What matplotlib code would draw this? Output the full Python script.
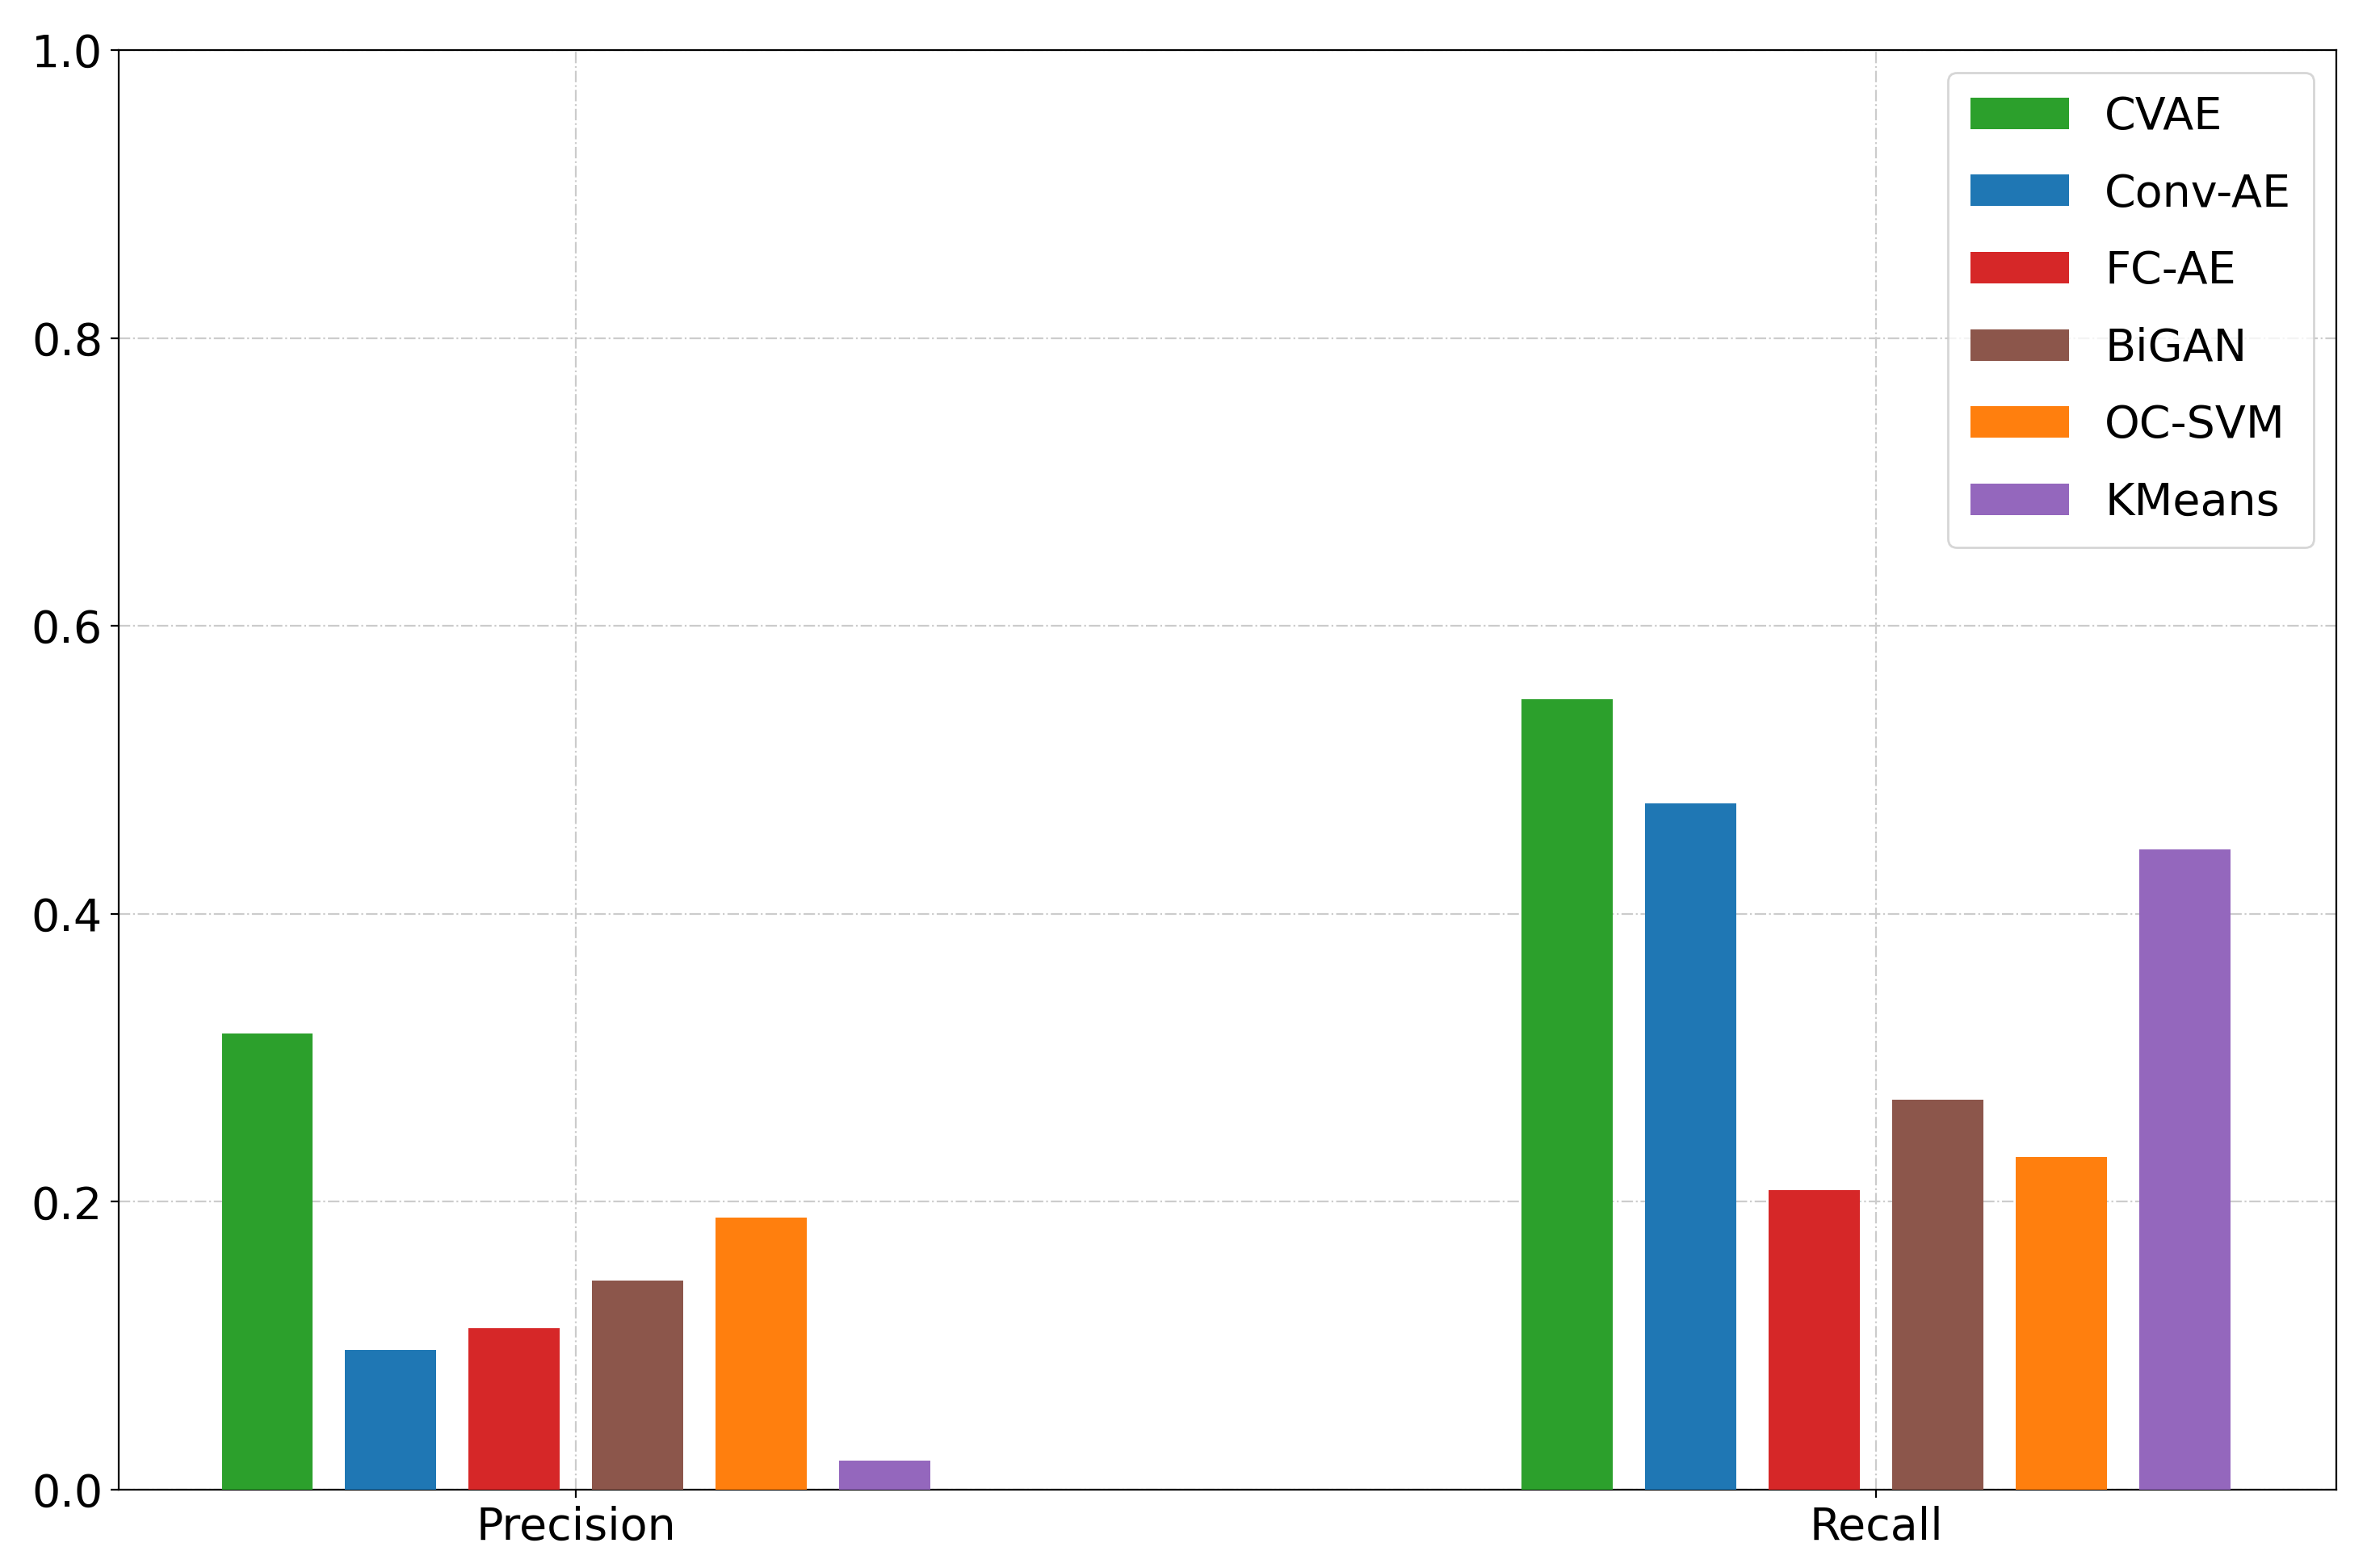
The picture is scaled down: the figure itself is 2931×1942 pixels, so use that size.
import numpy as np
import matplotlib
matplotlib.use('Agg')
import matplotlib.pyplot as plt

groups = ['Precision', 'Recall']
methods = ['CVAE', 'Conv-AE', 'FC-AE', 'BiGAN', 'OC-SVM', 'KMeans']
colors = ['#2ca02c', '#1f77b4', '#d62728', '#8c564b', '#ff7f0e', '#9467bd']
precision = [0.317, 0.097, 0.112, 0.145, 0.189, 0.020]
recall = [0.549, 0.477, 0.208, 0.271, 0.231, 0.445]

fig = plt.figure(figsize=(14.655, 9.71), dpi=200)
ax = fig.add_axes([0.05, 0.05, 0.937, 0.918])
x = np.arange(len(groups))
step = 0.095
for i, m in enumerate(methods):
    vals = [precision[i], recall[i]]
    ax.bar(x + (i - 2.5) * step, vals, width=0.07, color=colors[i], label=m, zorder=3)

ax.set_xticks(x)
ax.set_xticklabels(groups)
ax.set_xlim(-0.352, 1.354)
ax.set_ylim(0, 1.0)
ax.set_yticks([0, 0.2, 0.4, 0.6, 0.8, 1.0])
ax.tick_params(labelsize=20)
ax.grid(True, linestyle='-.', color='#cccccc', linewidth=0.8, zorder=0)
ax.legend(fontsize=20, handlelength=2.2, handleheight=0.7, loc='upper right',
          borderpad=0.5, labelspacing=0.75)
plt.savefig('out.png')
